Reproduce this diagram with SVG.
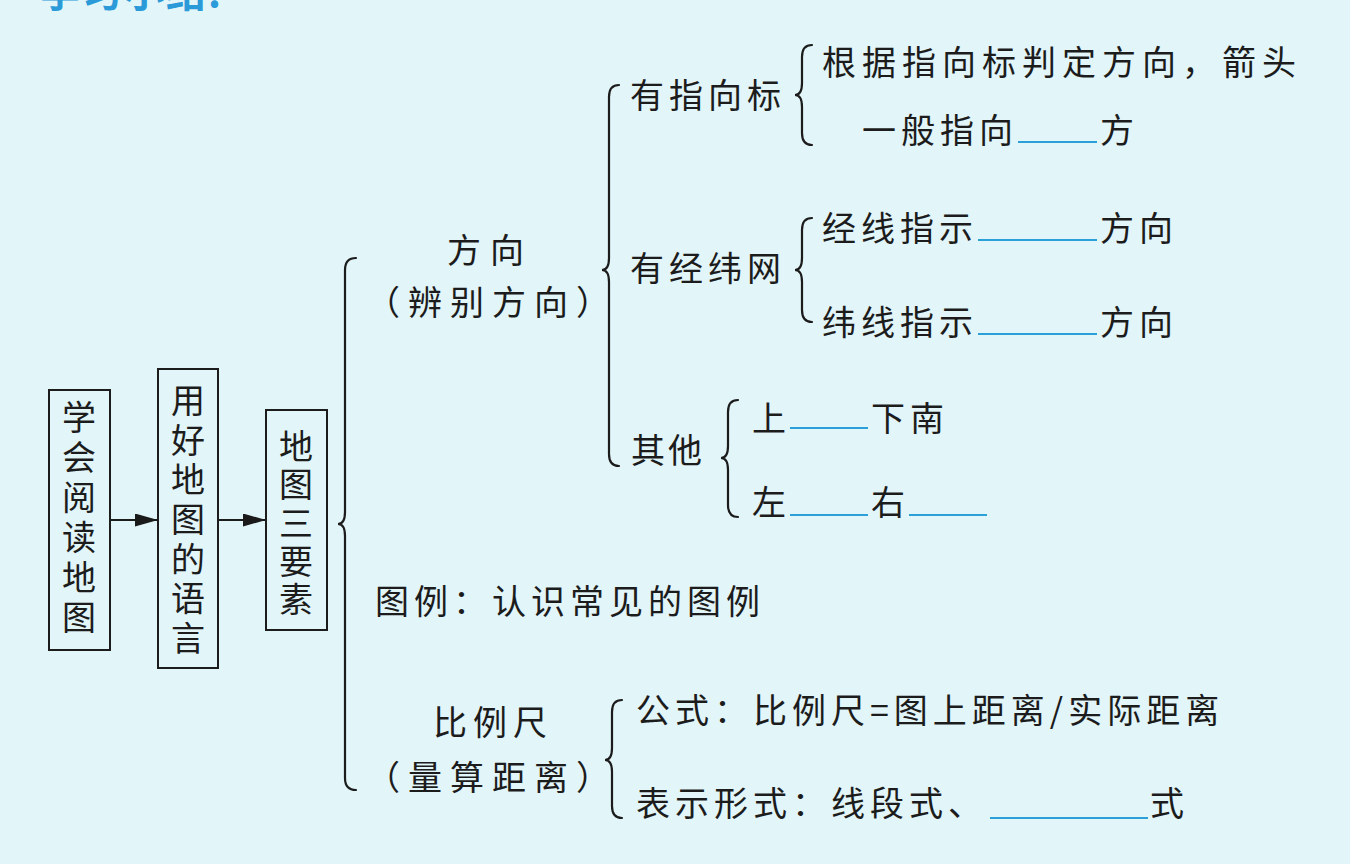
<svg xmlns="http://www.w3.org/2000/svg" width="1350" height="864" viewBox="0 0 1350 864">
<defs>
<marker id="arr" markerWidth="23" markerHeight="13" refX="23" refY="6.5" orient="auto" markerUnits="userSpaceOnUse">
<path d="M0,0 L23,6.5 L0,13 Z" fill="#1a1a1a"/>
</marker>
</defs>
<style>
text{font-family:"Noto Sans CJK SC","Noto Sans CJK JP",sans-serif;font-size:34px;fill:#1c1c1c;}
.t{letter-spacing:5px;}
.box{fill:none;stroke:#1c1c1c;stroke-width:2;}
.br{fill:none;stroke:#1c1c1c;stroke-width:2.2;stroke-linecap:round;}
.blank{stroke:#2a9fd8;stroke-width:2;}
.ln{stroke:#1c1c1c;stroke-width:2.2;}
.v{writing-mode:tb;glyph-orientation-vertical:0;}
</style>
<rect x="0" y="0" width="1350" height="864" fill="#e2f5f9"/>
<text x="40" y="7" style="font-size:40px;font-weight:bold;fill:#2b9ad8;letter-spacing:2px">学习小结:</text>

<g id="connectors">
<line class="ln" x1="110" y1="520" x2="158" y2="520" marker-end="url(#arr)"/>
<line class="ln" x1="218" y1="520" x2="266" y2="520" marker-end="url(#arr)"/>
<path class="br" d="M356,258 Q345,258 345,270 L345,512 Q345,524 338,524 Q345,524 345,536 L345,778 Q345,790 356,790"/>
<path class="br" d="M619,85 Q609,85 609,97 L609,258 Q609,270 602,270 Q609,270 609,282 L609,454 Q609,466 619,466"/>
<path class="br" d="M812,45 Q802,45 802,57 L802,83 Q802,95 795,95 Q802,95 802,107 L802,133 Q802,145 812,145"/>
<path class="br" d="M812,218 Q802,218 802,230 L802,258 Q802,270 795,270 Q802,270 802,282 L802,310 Q802,322 812,322"/>
<path class="br" d="M738,400 Q728,400 728,412 L728,446 Q728,458 721,458 Q728,458 728,470 L728,505 Q728,517 738,517"/>
<path class="br" d="M622,700 Q612,700 612,712 L612,748 Q612,760 605,760 Q612,760 612,772 L612,806 Q612,818 622,818"/>
</g>

<g id="n-xuehui">
<rect class="box" x="49" y="390" width="61" height="260"/>
<text class="v" x="79" y="400" style="letter-spacing:6px">学会阅读地图</text>
</g>
<g id="n-yonghao">
<rect class="box" x="158" y="369" width="60" height="299"/>
<text class="v" x="188" y="383" style="letter-spacing:5.7px">用好地图的语言</text>
</g>
<g id="n-sanyaosu">
<rect class="box" x="266" y="410" width="61" height="220"/>
<text class="v" x="296" y="429" style="letter-spacing:4.3px">地图三要素</text>
</g>

<g id="n-fangxiang">
<text x="447" y="263" style="letter-spacing:9px">方向</text>
<text x="366" y="315" style="letter-spacing:8px">（辨别方向）</text>
</g>
<g id="n-tuli">
<text class="t" x="375" y="614">图例：认识常见的图例</text>
</g>
<g id="n-bilichi">
<text x="433" y="735" style="letter-spacing:6px">比例尺</text>
<text x="366" y="790" style="letter-spacing:8px">（量算距离）</text>
</g>

<g id="n-zhixiangbiao">
<text class="t" x="630" y="108">有指向标</text>
<text x="822" y="75" style="letter-spacing:6px">根据指向标判定方向，箭头</text>
<text class="t" x="862" y="143">一般指向</text>
<line class="blank" x1="1018" y1="142" x2="1097" y2="142"/>
<text class="t" x="1100" y="143">方</text>
</g>
<g id="n-jingweiwang">
<text class="t" x="630" y="281">有经纬网</text>
<text class="t" x="822" y="241">经线指示</text>
<line class="blank" x1="978" y1="240" x2="1097" y2="240"/>
<text class="t" x="1100" y="241">方向</text>
<text class="t" x="822" y="335">纬线指示</text>
<line class="blank" x1="978" y1="334" x2="1097" y2="334"/>
<text class="t" x="1100" y="335">方向</text>
</g>
<g id="n-qita">
<text x="631" y="463" style="letter-spacing:3px">其他</text>
<text class="t" x="752" y="431">上</text>
<line class="blank" x1="790" y1="428" x2="868" y2="428"/>
<text class="t" x="871" y="431">下南</text>
<text class="t" x="752" y="515">左</text>
<line class="blank" x1="790" y1="515" x2="868" y2="515"/>
<text class="t" x="871" y="515">右</text>
<line class="blank" x1="909" y1="515" x2="987" y2="515"/>
</g>
<g id="n-gongshi">
<text class="t" x="636" y="723">公式：比例尺=图上距离/实际距离</text>
<text class="t" x="636" y="816">表示形式：线段式、</text>
<line class="blank" x1="990" y1="818" x2="1148" y2="818"/>
<text class="t" x="1150" y="816">式</text>
</g>
</svg>
